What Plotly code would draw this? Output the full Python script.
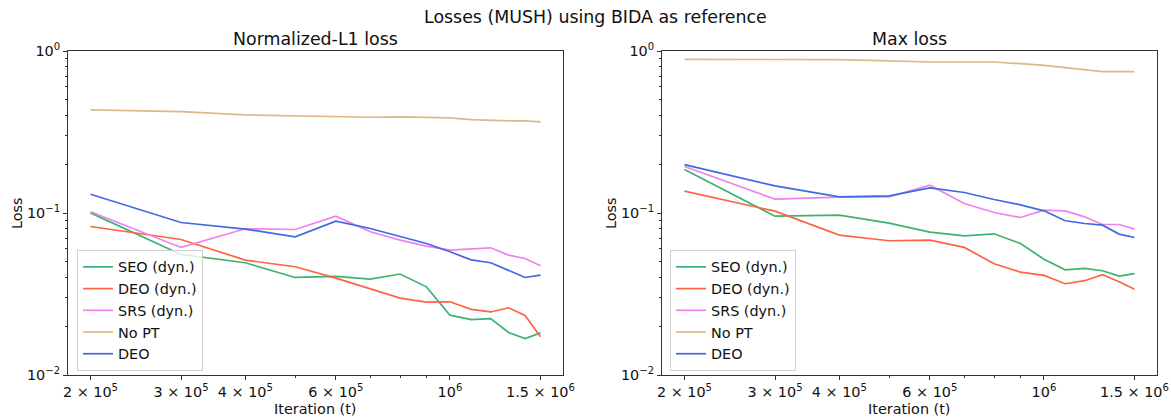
import plotly.graph_objects as go

# ---------------- data ----------------
iterations = [200000, 300000, 400000, 500000, 600000, 700000, 800000,
              900000, 1000000, 1100000, 1200000, 1300000, 1400000, 1500000]

series_names = ["SEO (dyn.)", "DEO (dyn.)", "SRS (dyn.)", "No PT", "DEO"]
series_colors = ["#3CB371", "#FF6347", "#EE82EE", "#DEB887", "#4169E1"]

# Normalized-L1 loss
seo_l1 = [0.1002, 0.0555, 0.0493, 0.0400, 0.0406, 0.0391, 0.0420, 0.0350,
          0.0234, 0.0220, 0.0223, 0.0183, 0.0168, 0.0182]
deo_dyn_l1 = [0.0825, 0.0686, 0.0512, 0.0466, 0.0396, 0.0339, 0.0298, 0.0282,
              0.0283, 0.0254, 0.0245, 0.0260, 0.0233, 0.0172]
srs_l1 = [0.1017, 0.0613, 0.0799, 0.0791, 0.0956, 0.0766, 0.0680, 0.0624,
          0.0590, 0.0601, 0.0610, 0.0550, 0.0524, 0.0472]
nopt_l1 = [0.433, 0.4225, 0.403, 0.399, 0.394, 0.390, 0.392, 0.390,
           0.386, 0.377, 0.372, 0.370, 0.370, 0.365]
deo_l1 = [0.1306, 0.0874, 0.0795, 0.0713, 0.0891, 0.0802, 0.0716, 0.0648,
          0.0576, 0.0514, 0.0493, 0.0444, 0.0400, 0.0414]

# Max loss
seo_max = [0.1854, 0.0956, 0.0970, 0.0866, 0.0762, 0.0723, 0.0744, 0.0648,
           0.0519, 0.0446, 0.0455, 0.0440, 0.0408, 0.0422]
deo_dyn_max = [0.1364, 0.1026, 0.0730, 0.0674, 0.0680, 0.0613, 0.0486, 0.0432,
               0.0412, 0.0366, 0.0382, 0.0416, 0.0376, 0.0338]
srs_max = [0.1935, 0.1217, 0.1252, 0.1258, 0.1484, 0.1145, 0.1007, 0.0938,
           0.1041, 0.1031, 0.0947, 0.0849, 0.0849, 0.0795]
nopt_max = [0.888, 0.888, 0.884, 0.868, 0.855, 0.855, 0.855, 0.835,
            0.816, 0.789, 0.767, 0.746, 0.746, 0.746]
deo_max = [0.199, 0.147, 0.1258, 0.1276, 0.1429, 0.1338, 0.1211, 0.1123,
           0.1031, 0.0895, 0.0861, 0.0841, 0.0741, 0.0706]

x_tick_vals = [200000, 300000, 400000, 600000, 1000000, 1500000]
x_tick_text = ["2 × 10<sup>5</sup>", "3 × 10<sup>5</sup>", "4 × 10<sup>5</sup>",
               "6 × 10<sup>5</sup>", "10<sup>6</sup>", "1.5 × 10<sup>6</sup>"]
x_minor_vals = [500000, 700000, 800000, 900000]
y_tick_vals = [0.01, 0.1, 1]
y_tick_text = ["10<sup>−2</sup>", "10<sup>−1</sup>", "10<sup>0</sup>"]
y_minor_vals = [m * 0.01 for m in range(2, 10)] + [m * 0.1 for m in range(2, 10)]

title_main = "Losses (MUSH) using BIDA as reference"
title_left = "Normalized-L1 loss"
title_right = "Max loss"
x_label = "Iteration (t)"
y_label = "Loss"

# ---------------- figure ----------------
W, H = 1171, 418
FONT = "DejaVu Sans"
fig = go.Figure()

left_series = [seo_l1, deo_dyn_l1, srs_l1, nopt_l1, deo_l1]
right_series = [seo_max, deo_dyn_max, srs_max, nopt_max, deo_max]

for name, color, ys in zip(series_names, series_colors, left_series):
    fig.add_trace(go.Scatter(x=iterations, y=ys, mode="lines", name=name,
                             line=dict(color=color, width=1.7),
                             xaxis="x", yaxis="y", legend="legend"))
for name, color, ys in zip(series_names, series_colors, right_series):
    fig.add_trace(go.Scatter(x=iterations, y=ys, mode="lines", name=name,
                             line=dict(color=color, width=1.7),
                             xaxis="x2", yaxis="y2", legend="legend2"))

# pixel geometry of plot areas
L_x0, L_x1 = 68, 563
R_x0, R_x1 = 662, 1157
Y_top, Y_bot = 51, 375

def px(x):
    return x / W

def py(y):
    return (H - y) / H

axis_common = dict(
    showline=True, mirror=True, linecolor="#333333", linewidth=1,
    showgrid=False, zeroline=False, ticks="outside", ticklen=4,
    tickcolor="#333333", tickwidth=1,
    tickfont=dict(family=FONT, size=14.4, color="#111111"),
    automargin=False,
)

xaxis_common = dict(axis_common, type="log", range=[5.2573, 6.2198],
                    tickmode="array", tickvals=x_tick_vals, ticktext=x_tick_text,
                    minor=dict(tickmode="array", tickvals=x_minor_vals,
                               ticks="outside", ticklen=2.4,
                               tickcolor="#333333", showgrid=False))
yaxis_common = dict(axis_common, type="log", range=[-2, 0],
                    tickmode="array", tickvals=y_tick_vals, ticktext=y_tick_text,
                    minor=dict(tickmode="array", tickvals=y_minor_vals,
                               ticks="outside", ticklen=2.4,
                               tickcolor="#333333", showgrid=False))

legend_common = dict(
    font=dict(family=FONT, size=14.4, color="#111111"),
    bgcolor="rgba(255,255,255,0.8)", bordercolor="#d0d0d0", borderwidth=1,
    xanchor="left", yanchor="bottom", xref="paper", yref="paper",
    tracegroupgap=0,
)

fig.update_layout(
    width=W, height=H,
    margin=dict(l=0, r=0, t=0, b=0),
    paper_bgcolor="white", plot_bgcolor="white",
    font=dict(family=FONT, size=14.4, color="#111111"),
    xaxis=dict(xaxis_common, domain=[px(L_x0), px(L_x1)], anchor="y"),
    yaxis=dict(yaxis_common, domain=[py(Y_bot), py(Y_top)], anchor="x"),
    xaxis2=dict(xaxis_common, domain=[px(R_x0), px(R_x1)], anchor="y2"),
    yaxis2=dict(yaxis_common, domain=[py(Y_bot), py(Y_top)], anchor="x2"),
    legend=dict(legend_common, x=px(77), y=py(371)),
    legend2=dict(legend_common, x=px(670), y=py(371)),
    showlegend=True,
)

annotations = [
    dict(text=title_main, x=px(595), y=py(16.6), size=17.4),
    dict(text=title_left, x=px((L_x0 + L_x1) / 2), y=py(39.2), size=17.4),
    dict(text=title_right, x=px((R_x0 + R_x1) / 2), y=py(39.2), size=17.4),
    dict(text=x_label, x=px((L_x0 + L_x1) / 2), y=py(409), size=14.4),
    dict(text=x_label, x=px((R_x0 + R_x1) / 2), y=py(409), size=14.4),
]
for a in annotations:
    fig.add_annotation(text=a["text"], x=a["x"], y=a["y"], xref="paper", yref="paper",
                       xanchor="center", yanchor="middle", showarrow=False,
                       font=dict(family=FONT, size=a["size"], color="#111111"))
for xc in (17, 611):
    fig.add_annotation(text=y_label, x=px(xc), y=py((Y_top + Y_bot) / 2),
                       xref="paper", yref="paper", xanchor="center", yanchor="middle",
                       textangle=-90, showarrow=False,
                       font=dict(family=FONT, size=14.4, color="#111111"))

fig.write_html("out.html")
